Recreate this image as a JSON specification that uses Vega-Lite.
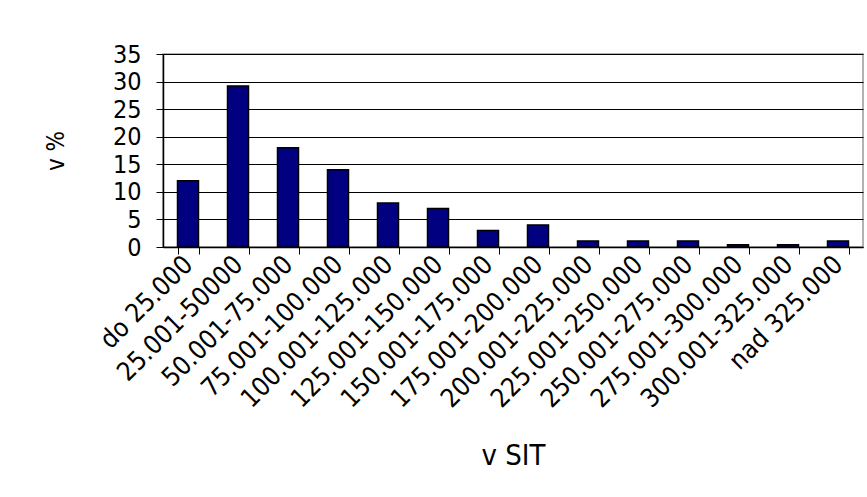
{
  "$schema": "https://vega.github.io/schema/vega-lite/v6.json",
  "width": 700,
  "height": 193,
  "autosize": {"type": "none"},
  "padding": {"left": 163, "top": 54, "right": 4, "bottom": 250},
  "background": "white",
  "config": {
    "font": "DejaVu Sans Condensed",
    "view": {"stroke": "#999999", "strokeWidth": 1.5}
  },
  "data": {
    "values": [
      {"k": "do 25.000", "v": 12},
      {"k": "25.001-50000", "v": 29.2},
      {"k": "50.001-75.000", "v": 18},
      {"k": "75.001-100.000", "v": 14},
      {"k": "100.001-125.000", "v": 8},
      {"k": "125.001-150.000", "v": 7},
      {"k": "150.001-175.000", "v": 3},
      {"k": "175.001-200.000", "v": 4},
      {"k": "200.001-225.000", "v": 1.1},
      {"k": "225.001-250.000", "v": 1.1},
      {"k": "250.001-275.000", "v": 1.1},
      {"k": "275.001-300.000", "v": 0.4},
      {"k": "300.001-325.000", "v": 0.4},
      {"k": "nad 325.000", "v": 1.1}
    ]
  },
  "mark": {"type": "bar", "color": "#000080", "stroke": "black", "strokeWidth": 1.5},
  "encoding": {
    "x": {
      "field": "k",
      "type": "nominal",
      "sort": null,
      "scale": {"paddingInner": 0.58, "paddingOuter": 0.29},
      "axis": {
        "title": "v SIT",
        "titleFontSize": 29,
        "titleFontWeight": "normal",
        "titleColor": "black",
        "titlePadding": 30,
        "labelAngle": -45,
        "labelAlign": "right",
        "labelBaseline": "middle",
        "labelFontSize": 26,
        "labelColor": "black",
        "labelPadding": 6,
        "labelLimit": 0,
        "labelOverlap": false,
        "tickBand": "extent",
        "tickColor": "black",
        "tickSize": 7,
        "domainColor": "black",
        "domainWidth": 1.5,
        "grid": false
      }
    },
    "y": {
      "field": "v",
      "type": "quantitative",
      "scale": {"domain": [0, 35], "nice": false},
      "axis": {
        "title": "v %",
        "titleFontSize": 24,
        "titleFontWeight": "normal",
        "titleColor": "black",
        "titlePadding": 44,
        "values": [0, 5, 10, 15, 20, 25, 30, 35],
        "labelFontSize": 25,
        "labelColor": "black",
        "labelPadding": 15,
        "tickColor": "black",
        "tickSize": 7,
        "domainColor": "black",
        "domainWidth": 1.5,
        "gridColor": "black",
        "gridOpacity": 1,
        "gridWidth": 1
      }
    }
  }
}
